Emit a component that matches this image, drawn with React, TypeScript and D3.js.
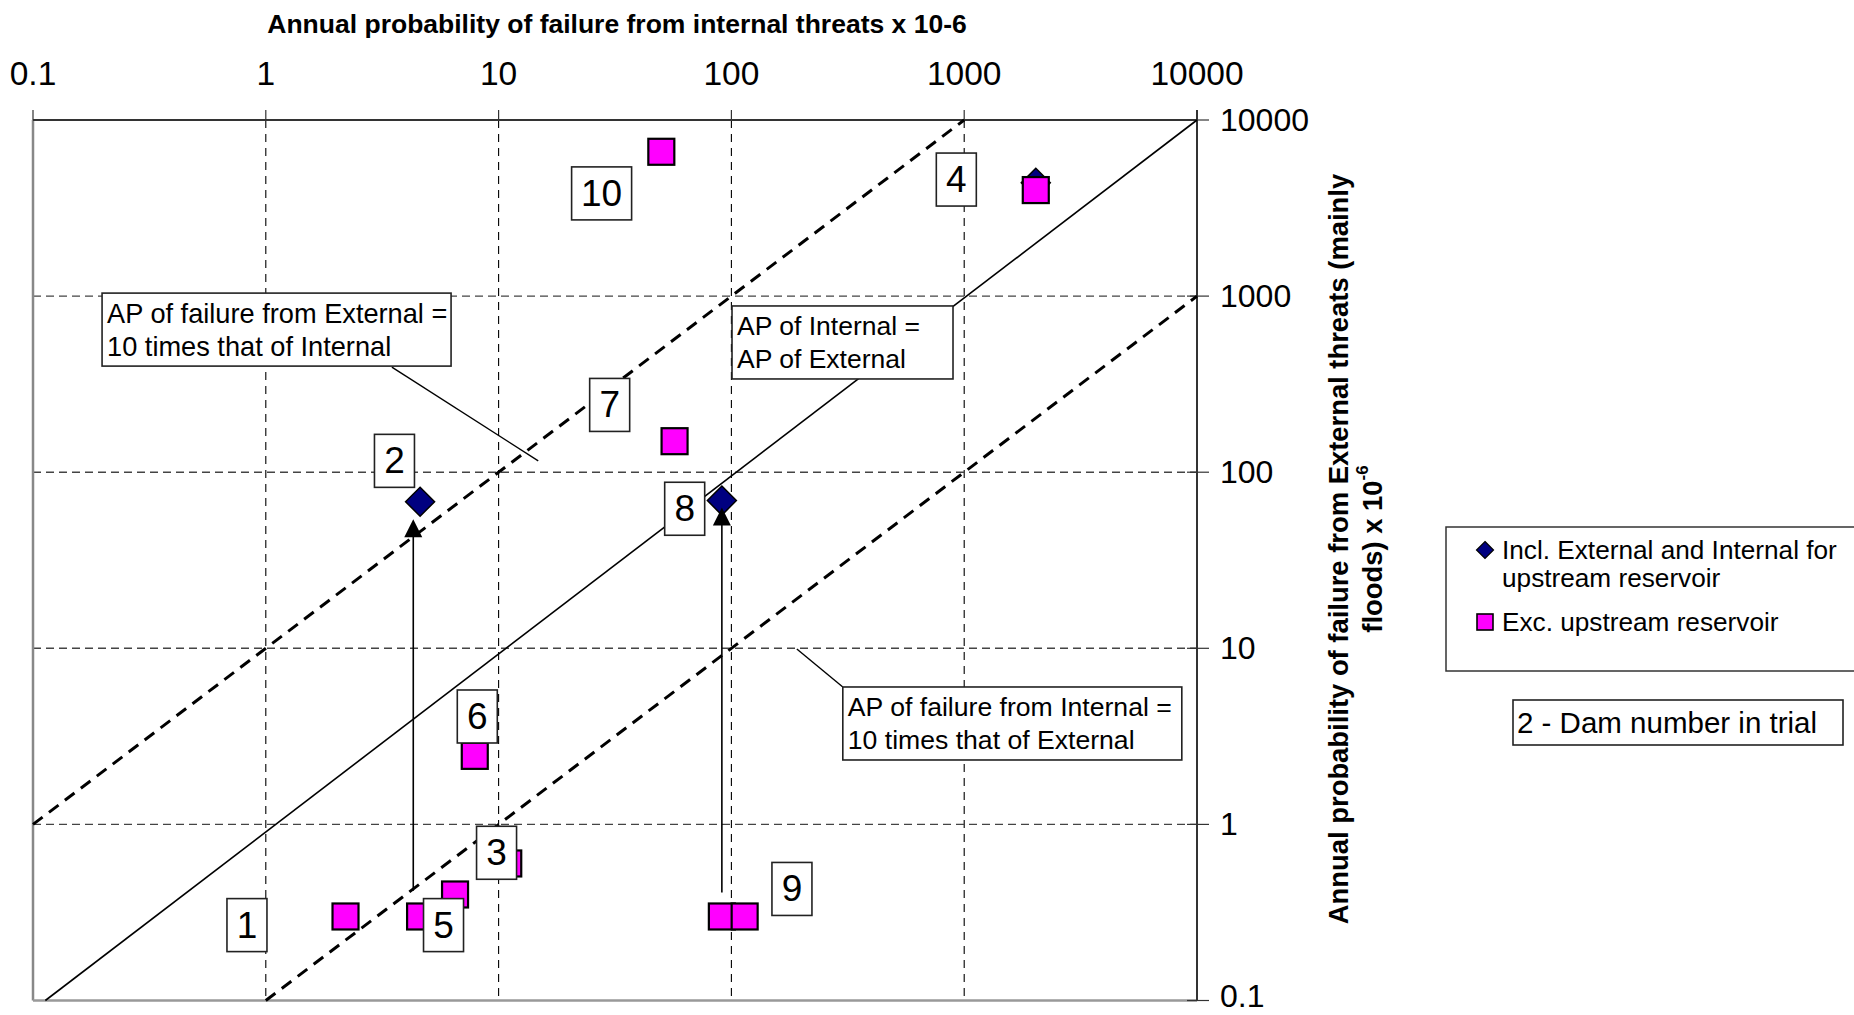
import React from "react";
import * as d3 from "d3";

// ---- data ----
const tickValues = [0.1, 1, 10, 100, 1000, 10000];
const tickLabels = ["0.1", "1", "10", "100", "1000", "10000"];

// Incl. External and Internal for upstream reservoir (diamonds)
const inclX = [4.6, 91, 2030];
const inclY = [68, 69, 4400];

// Exc. upstream reservoir (squares)
const excX = [50, 2030, 57, 7.9, 11, 6.5, 4.6, 2.2, 91, 114];
const excY = [6600, 4000, 150, 2.45, 0.6, 0.4, 0.3, 0.3, 0.3, 0.3];

// dam number labels (anchored in data units)
const damLabels = ["10", "4", "7", "2", "8", "6", "3", "5", "1", "9"];
const damLabelX = [27.7, 925, 30, 3.57, 63, 8.1, 9.8, 5.8, 0.83, 182];
const damLabelY = [3830, 4590, 241, 116, 62, 4.1, 0.69, 0.268, 0.268, 0.43];

// arrows from excl. to incl. values
const arrowX = [4.3, 91];
const arrowFromY = [0.42, 0.41];
const arrowToY = [54, 63];

// reference lines
const lineOneToOne = [[0.113, 0.1], [10000, 10000]];
const lineTenTimes = [[0.1, 1], [1000, 10000]];
const lineTenth = [[1, 0.1], [10000, 1000]];

// callouts
const calloutTexts = [
  ["AP of failure from External =", "10 times that of Internal"],
  ["AP of Internal =", "AP of External"],
  ["AP of failure from Internal =", "10 times that of External"],
];
const calloutX = [0.198, 100.6, 301];
const calloutY = [1040, 879, 6.03];
const calloutW = [349, 221, 339];
const calloutFont = [27.2, 26.5, 26.6];
const calloutLeaderFrom = [[3.48, 395], null, [301, 6.03]];
const calloutLeaderTo = [[14.8, 116], null, [191, 9.9]];

const titleTop = "Annual probability of failure from internal threats x 10-6";
const titleRight1 = "Annual probability of failure from External threats (mainly";
const titleRight2 = "floods) x 10";
const legendItems = ["Incl. External and Internal for", "upstream reservoir", "Exc. upstream reservoir"];
const noteText = "2 - Dam number in trial";

const FONT = "'Liberation Sans', Arial, Helvetica, sans-serif";

export default function App() {
  const W = 1854, H = 1015;
  const x = d3.scaleLog().domain([0.1, 10000]).range([33, 1197]);
  const y = d3.scaleLog().domain([0.1, 10000]).range([1000.5, 120]);
  const [x0, x1] = x.range();
  const [y0, y1] = y.range();

  const refLine = (pts: number[][], key: string, dashed: boolean) => (
    <line key={key} x1={x(pts[0][0])} y1={y(pts[0][1])} x2={x(pts[1][0])} y2={y(pts[1][1])}
      stroke="#000" strokeWidth={dashed ? 3 : 1.6} strokeDasharray={dashed ? "12,8" : undefined} />
  );

  const diamond = (cx: number, cy: number, r: number) =>
    `M${cx},${cy - r}L${cx + r},${cy}L${cx},${cy + r}L${cx - r},${cy}Z`;

  return (
    <svg width={W} height={H} style={{ position: "absolute", left: 0, top: 0, background: "#fff" }}
      fontFamily={FONT}>
      <rect x={0} y={0} width={W} height={H} fill="#fff" />
      {/* grid */}
      {tickValues.slice(1, -1).map((v) => (
        <line key={"gx" + v} x1={x(v)} x2={x(v)} y1={y1} y2={y0} stroke="#000" strokeWidth={1.1} strokeDasharray="8,6" />
      ))}
      {tickValues.slice(1, -1).map((v) => (
        <line key={"gy" + v} x1={x0} x2={x1} y1={y(v)} y2={y(v)} stroke="#444" strokeWidth={1.4} strokeDasharray="8,5" />
      ))}
      {/* axes */}
      <line x1={x0} x2={x0} y1={y1} y2={y0} stroke="#888" strokeWidth={2.5} />
      <line x1={x0} x2={x1} y1={y0} y2={y0} stroke="#999" strokeWidth={2.5} />
      <line x1={x0} x2={x1} y1={y1} y2={y1} stroke="#333" strokeWidth={2} />
      <line x1={x1} x2={x1} y1={y1 - 10} y2={y0} stroke="#333" strokeWidth={2} />
      {tickValues.map((v, i) => (
        <g key={"tx" + v}>
          <line x1={x(v)} x2={x(v)} y1={y1 - 10} y2={y1} stroke="#333" strokeWidth={1.2} />
          <text x={x(v)} y={73} textAnchor="middle" dominantBaseline="central" fontSize={33.5} fill="#000">{tickLabels[i]}</text>
        </g>
      ))}
      {tickValues.map((v, i) => (
        <g key={"ty" + v}>
          <line x1={x1 - 10} x2={x1 + 12} y1={y(v)} y2={y(v)} stroke="#333" strokeWidth={1.2} />
          <text x={1220} y={Math.min(y(v), 996)} dominantBaseline="central" fontSize={32} fill="#000">{tickLabels[i]}</text>
        </g>
      ))}
      {/* titles */}
      <text x={617} y={24} textAnchor="middle" dominantBaseline="central" fontSize={26.5} fontWeight="bold">{titleTop}</text>
      <g transform="translate(1338,549) rotate(-90)">
        <text x={0} y={0} textAnchor="middle" dominantBaseline="central" fontSize={27.4} fontWeight="bold">{titleRight1}</text>
        <text x={0} y={34} textAnchor="middle" dominantBaseline="central" fontSize={27.4} fontWeight="bold">
          {titleRight2}<tspan dy={-10} fontSize={17}>-6</tspan>
        </text>
      </g>
      {/* reference lines */}
      {refLine(lineOneToOne, "l1", false)}
      {refLine(lineTenTimes, "l2", true)}
      {refLine(lineTenth, "l3", true)}
      {/* markers */}
      {inclX.map((v, i) => (
        <path key={"d" + i} d={diamond(x(v), y(inclY[i]), 14.5)} fill="#000080" stroke="#000" strokeWidth={1.5} />
      ))}
      {excX.map((v, i) => (
        <rect key={"s" + i} x={x(v) - 13} y={y(excY[i]) - 13} width={26} height={26} fill="#FF00FF" stroke="#000" strokeWidth={2.2} />
      ))}
      {/* arrows */}
      {arrowX.map((v, i) => {
        const ax = x(v), ya = y(arrowFromY[i]), yb = y(arrowToY[i]);
        return (
          <g key={"a" + i}>
            <line x1={ax} x2={ax} y1={ya} y2={yb + 16} stroke="#000" strokeWidth={1.6} />
            <path d={`M${ax},${yb}L${ax + 9},${yb + 18}L${ax - 9},${yb + 18}Z`} fill="#000" />
          </g>
        );
      })}
      {/* callouts */}
      {calloutTexts.map((lines, i) => {
        const bx = x(calloutX[i]), by = y(calloutY[i]);
        const lf = calloutLeaderFrom[i], lt = calloutLeaderTo[i];
        return (
          <g key={"c" + i}>
            {lf && lt && (
              <line x1={x(lf[0])} y1={y(lf[1])} x2={x(lt[0])} y2={y(lt[1])} stroke="#000" strokeWidth={1.4} />
            )}
            <rect x={bx} y={by} width={calloutW[i]} height={73} fill="#fff" stroke="#222" strokeWidth={1.6} />
            {lines.map((t, j) => (
              <text key={j} x={bx + 5} y={by + 20 + j * 33} dominantBaseline="central" fontSize={calloutFont[i]}>{t}</text>
            ))}
          </g>
        );
      })}
      {/* dam labels */}
      {damLabels.map((t, i) => {
        const cx = x(damLabelX[i]), cy = y(damLabelY[i]);
        const w = t.length * 20 + 20;
        return (
          <g key={"dl" + i}>
            <rect x={cx - w / 2} y={cy - 26.5} width={w} height={53} fill="#fff" stroke="#222" strokeWidth={1.6} />
            <text x={cx} y={cy} textAnchor="middle" dominantBaseline="central" fontSize={37}>{t}</text>
          </g>
        );
      })}
      {/* legend */}
      <rect x={1446} y={527} width={420} height={144} fill="#fff" stroke="#333" strokeWidth={1.5} />
      <path d={diamond(1485, 550, 8.5)} fill="#000080" stroke="#000" strokeWidth={1.2} />
      <text x={1502} y={550} dominantBaseline="central" fontSize={26.2}>{legendItems[0]}</text>
      <text x={1502} y={578} dominantBaseline="central" fontSize={26.2}>{legendItems[1]}</text>
      <rect x={1477} y={614} width={16} height={16} fill="#FF00FF" stroke="#000" strokeWidth={1.6} />
      <text x={1502} y={622} dominantBaseline="central" fontSize={26.2}>{legendItems[2]}</text>
      {/* note */}
      <rect x={1513} y={700} width={330} height={45} fill="#fff" stroke="#222" strokeWidth={1.6} />
      <text x={1517} y={722} dominantBaseline="central" fontSize={29.5}>{noteText}</text>
    </svg>
  );
}
